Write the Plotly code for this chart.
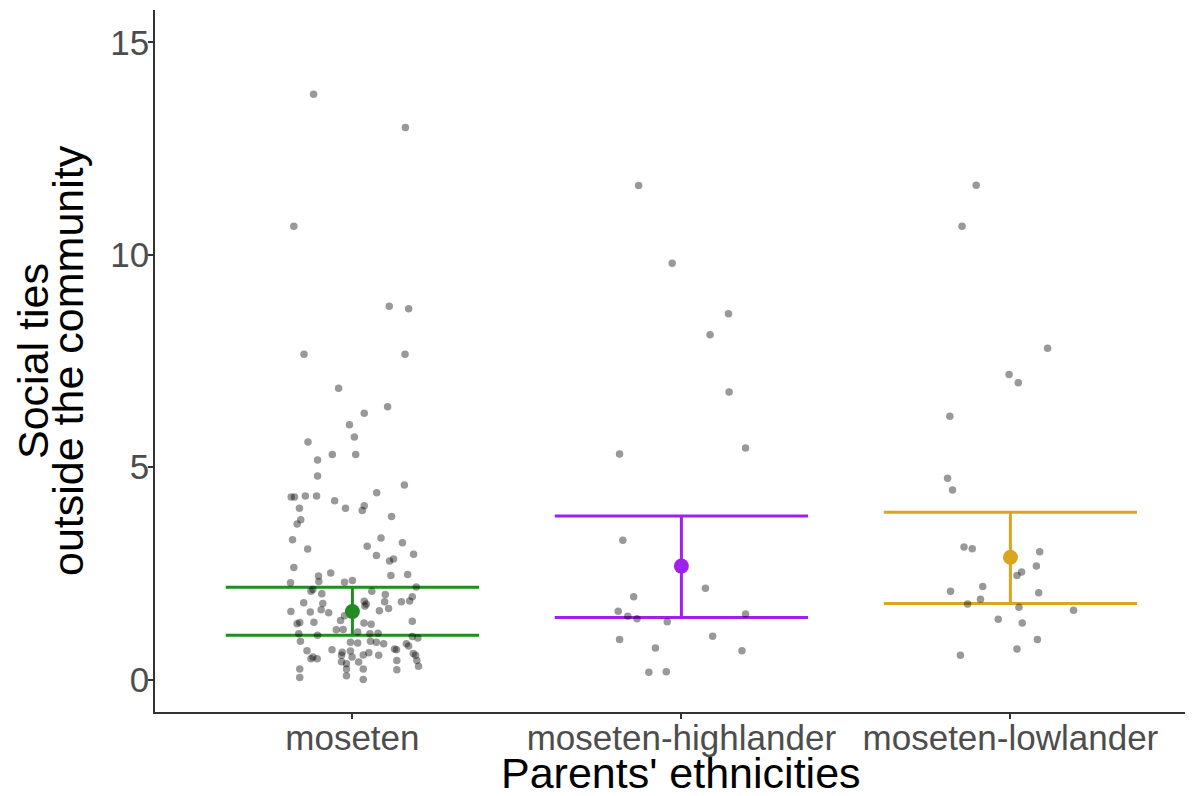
import plotly.graph_objects as go

# ---------------- data ----------------
categories = ["moseten", "moseten-highlander", "moseten-lowlander"]
line_colors = ["#228B22", "#A020F0", "#DAA520"]

# summary: mean and interval bounds
means = [1.60, 2.67, 2.88]
lower = [1.04, 1.46, 1.79]
upper = [2.17, 3.85, 3.94]

# jittered observations (horizontal jitter offset, value)
moseten_jit = [-0.118, 0.161, -0.178, 0.112, 0.171, -0.147, 0.160, -0.042, 0.107, 0.036, -0.009,
               0.006, -0.135, -0.061, 0.010, -0.106, -0.106, 0.158, 0.074, -0.186, -0.176, -0.143,
               -0.109, -0.054, 0.036, 0.030, -0.021, -0.161, 0.119, -0.157, -0.168,
               -0.182, 0.087, 0.045, 0.152, -0.136, 0.073, 0.186, 0.113, 0.125, -0.178, -0.066,
               -0.103, 0.117, 0.168, -0.188, -0.102, -0.024, 0.000, 0.194, -0.126, -0.120, -0.093,
               0.059, 0.100, 0.182, -0.148, -0.090, 0.036, 0.042, 0.098, 0.149, 0.174,
               -0.187, -0.128, -0.095, -0.072, 0.038, 0.082, 0.110, -0.024, -0.168, -0.160, -0.117,
               -0.036, 0.035, 0.057, 0.182, -0.049, -0.028, 0.016, -0.163, -0.106, 0.053, 0.078,
               0.182, 0.199, -0.158, -0.006, 0.016, 0.055, 0.073, 0.095, 0.164, 0.171, -0.062,
               -0.138, -0.031, -0.033, -0.006, 0.128, 0.134, 0.033, 0.050, 0.080, 0.185, 0.192,
               -0.126, -0.120, -0.107, -0.001, 0.135, 0.196, 0.201, -0.033, -0.018, 0.019, -0.160,
               -0.018, 0.033, 0.135, -0.160, -0.018, 0.033]
moseten_y = [13.78, 13.00, 10.67, 8.79, 8.73, 7.66, 7.66, 6.86, 6.42, 6.27, 6.00,
             5.71, 5.59, 5.30, 5.30, 5.17, 4.79, 4.58, 4.40, 4.30, 4.30, 4.32,
             4.32, 4.21, 4.09, 3.98, 4.03, 4.03, 3.84, 3.76, 3.66,
             3.29, 3.33, 3.14, 3.22, 3.07, 2.92, 2.95, 2.79, 2.84, 2.64, 2.51,
             2.44, 2.45, 2.47, 2.28, 2.31, 2.29, 2.33, 2.18, 2.08, 2.12, 2.02,
             2.08, 2.00, 1.95, 1.81, 1.79, 1.84, 1.78, 1.83, 1.83, 1.85,
             1.60, 1.59, 1.64, 1.57, 1.73, 1.62, 1.67, 1.50, 1.31, 1.34, 1.35,
             1.39, 1.33, 1.30, 1.37, 1.17, 1.18, 1.12, 1.08, 1.04, 1.08, 1.09,
             1.01, 0.98, 0.90, 0.88, 0.86, 0.90, 0.88, 0.84, 0.84, 0.79, 0.70,
             0.68, 0.64, 0.57, 0.67, 0.72, 0.70, 0.58, 0.63, 0.57, 0.61, 0.57,
             0.49, 0.53, 0.49, 0.53, 0.45, 0.45, 0.31, 0.42, 0.37, 0.41, 0.25,
             0.25, 0.25, 0.23, 0.05, 0.09, 0.00]

highlander_jit = [-0.130, -0.028, 0.143, 0.087, 0.145, -0.188, 0.195, -0.178, 0.073, -0.145,
                  -0.192, -0.163, -0.135, -0.043, 0.195, -0.188, 0.095, -0.079, 0.184, -0.099, -0.046]
highlander_y = [11.63, 9.80, 8.61, 8.12, 6.77, 5.31, 5.45, 3.28, 2.15, 1.95,
                1.61, 1.49, 1.43, 1.36, 1.54, 0.94, 1.02, 0.74, 0.68, 0.17, 0.18]

lowlander_jit = [-0.104, -0.147, 0.113, -0.004, 0.024, -0.184, -0.191, -0.176, -0.141, -0.116,
                 0.089, 0.079, 0.034, 0.020, -0.084, -0.182, 0.086, -0.091, -0.130, 0.026,
                 0.192, -0.037, 0.036, 0.082, 0.020, -0.152]
lowlander_y = [11.64, 10.67, 7.80, 7.18, 6.99, 6.20, 4.74, 4.46, 3.12, 3.08,
               3.01, 2.67, 2.53, 2.45, 2.19, 2.08, 2.04, 1.89, 1.78, 1.70,
               1.63, 1.42, 1.33, 0.94, 0.72, 0.57]

y_tick_vals = [0, 5, 10, 15]
x_title = "Parents' ethnicities"
y_title_lines = ["Social ties", "outside the community"]

# ---------------- figure ----------------
FONT = "Liberation Sans, Arial, sans-serif"
ERR_HALF = 0.385
OFF = 8  # page body margin offset

fig = go.Figure()

positions = [1, 2, 3]
# error bars (drawn first, beneath points)
for pos, lo, hi, col in zip(positions, lower, upper, line_colors):
    fig.add_trace(go.Scatter(
        x=[pos - ERR_HALF, pos + ERR_HALF, None, pos - ERR_HALF, pos + ERR_HALF, None, pos, pos],
        y=[hi, hi, None, lo, lo, None, lo, hi],
        mode="lines", line=dict(color=col, width=3), hoverinfo="skip", showlegend=False))

# jittered points
groups = [(moseten_jit, moseten_y), (highlander_jit, highlander_y), (lowlander_jit, lowlander_y)]
for pos, (jit, ys) in zip(positions, groups):
    fig.add_trace(go.Scatter(
        x=[pos + j for j in jit], y=ys, mode="markers",
        marker=dict(color="rgba(0,0,0,0.40)", size=7.5, line=dict(width=0)),
        showlegend=False))

# means
fig.add_trace(go.Scatter(
    x=positions, y=means, mode="markers",
    marker=dict(color=line_colors, size=15, line=dict(width=0)),
    showlegend=False))

W, H = 1193 - OFF, 796 - OFF
L, T = 155 - OFF, 10 - OFF
PW = W - L
PH = (712 - OFF) - T
B = H - T - PH
px_per_x = 329.0
x_lo = 0.4
x_hi = x_lo + PW / px_per_x

fig.update_layout(
    width=W, height=H,
    margin=dict(l=L, r=0, t=T, b=B, autoexpand=False),
    paper_bgcolor="white", plot_bgcolor="white",
    font=dict(family=FONT),
    xaxis=dict(range=[x_lo, x_hi], tickvals=positions, ticktext=categories, automargin=False,
               showgrid=False, zeroline=False, showline=True, linecolor="#333333", linewidth=1.5,
               ticks="outside", ticklen=5, tickwidth=1.5, tickcolor="#333333",
               ticklabelstandoff=-11,
               tickfont=dict(size=35, color="#4D4D4D", family=FONT)),
    yaxis=dict(range=[-0.765, 15.764], tickvals=y_tick_vals, automargin=False,
               showgrid=False, zeroline=False, showline=True, linecolor="#333333", linewidth=1.5,
               ticks="outside", ticklen=5, tickwidth=1.5, tickcolor="#333333",
               ticklabelstandoff=-8,
               tickfont=dict(size=35, color="#4D4D4D", family=FONT)),
)

# x-axis title
fig.add_annotation(text=x_title, xref="paper", yref="paper",
                   x=(681 - OFF - L) / PW, y=-(773 - 712) / PH,
                   xanchor="center", yanchor="middle", showarrow=False,
                   font=dict(size=43, color="black", family=FONT))

# two-line y-axis title as rotated annotations (tight line spacing)
for txt, xpx in zip(y_title_lines, [33, 68]):
    fig.add_annotation(text=txt, xref="paper", yref="paper",
                       x=(xpx - OFF - L) / PW, y=0.5, xanchor="center", yanchor="middle",
                       textangle=-90, showarrow=False,
                       font=dict(size=43, color="black", family=FONT))

fig.write_html("out.html")
